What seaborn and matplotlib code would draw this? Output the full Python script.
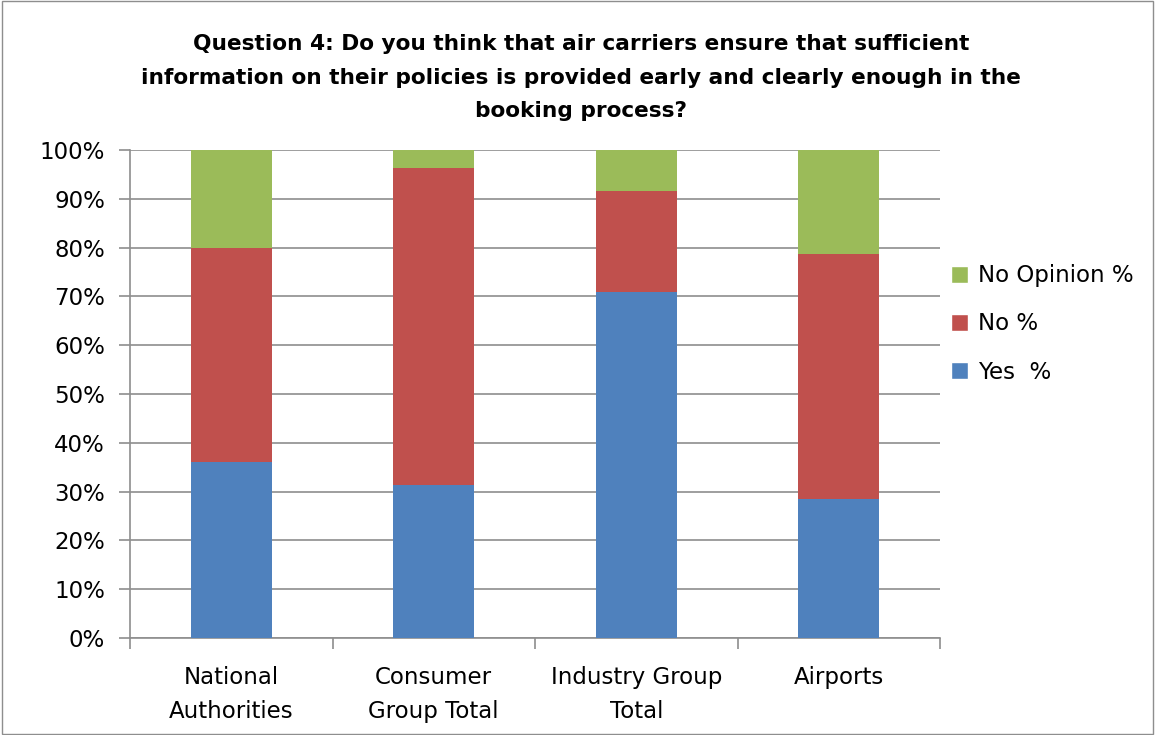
import matplotlib
matplotlib.use("Agg")
import matplotlib.pyplot as plt
import seaborn as sns
import numpy as np
import pandas as pd
from matplotlib.patches import Patch

categories = ["National\nAuthorities", "Consumer\nGroup Total", "Industry Group\nTotal", "Airports"]
yes_pct = [36.1, 31.3, 70.9, 28.4]
no_pct = [43.9, 65.0, 20.7, 50.3]
noop_pct = [20.0, 3.7, 8.4, 21.3]
series_names = ["Yes  %", "No %", "No Opinion %"]
colors = ["#4F81BD", "#C0504D", "#9BBB59"]

sns.set_theme(style="white")
plt.rcParams["font.family"] = ["DejaVu Sans"]
plt.rcParams["text.color"] = "black"
plt.rcParams["xtick.color"] = "black"
plt.rcParams["ytick.color"] = "black"

fig = plt.figure(figsize=(11.55, 7.35), dpi=100)
ax = fig.add_axes([130/1155, 1-638/735, (940-130)/1155, (638-150)/735])

df = pd.DataFrame({"cat": categories, "yes": yes_pct, "no": no_pct, "noop": noop_pct})
df["c_yes"] = df["yes"]
df["c_no"] = df["yes"] + df["no"]
df["c_all"] = df["c_no"] + df["noop"]

for col, color in [("c_all", colors[2]), ("c_no", colors[1]), ("c_yes", colors[0])]:
    sns.barplot(data=df, x="cat", y=col, color=color, width=0.4, ax=ax,
                saturation=1, edgecolor="none", linewidth=0, zorder=3)

ax.set_ylim(0, 100)
ax.set_xlim(-0.5, 3.5)
ax.set_yticks(np.arange(0, 101, 10))
ax.set_yticklabels([f"{v}%" for v in range(0, 101, 10)], fontsize=16.5)
ax.set_xticks(range(4))
ax.set_xticklabels(categories, fontsize=16.5, linespacing=1.65)
ax.set_xlabel("")
ax.set_ylabel("")
ax.yaxis.grid(True, color="#8E8E8E", linewidth=1.2, zorder=0)
ax.set_axisbelow(True)
for s in ["top", "right"]:
    ax.spines[s].set_visible(False)
for s in ["left", "bottom"]:
    ax.spines[s].set_color("#8E8E8E")
    ax.spines[s].set_linewidth(1.2)
ax.tick_params(axis="y", which="major", left=True, length=8, color="#8E8E8E", width=1.2, pad=10, labelcolor="black")
ax.tick_params(axis="x", which="major", bottom=False, pad=14, labelcolor="black")
ax.set_xticks([-0.5, 0.5, 1.5, 2.5, 3.5], minor=True)
ax.tick_params(axis="x", which="minor", bottom=True, length=8, color="#8E8E8E", width=1.2)

handles = [Patch(facecolor=colors[2], label=series_names[2]),
           Patch(facecolor=colors[1], label=series_names[1]),
           Patch(facecolor=colors[0], label=series_names[0])]
fig.legend(handles=handles, loc="center left", bbox_to_anchor=(930/1155, 1-324/735),
           frameon=False, fontsize=16.5, handlelength=0.75, handleheight=0.75,
           labelspacing=1.1, handletextpad=0.45, labelcolor="black")

title = ("Question 4: Do you think that air carriers ensure that sufficient\n"
         "information on their policies is provided early and clearly enough in the\n"
         "booking process?")
fig.text(581/1155, 1-77.5/735, title, ha="center", va="center", fontsize=15.6,
         fontweight="bold", linespacing=1.85, color="black")

border = plt.Rectangle((0.002, 0.002), 0.996, 0.996, transform=fig.transFigure,
                       fill=False, edgecolor="#8E8E8E", linewidth=1)
fig.patches.append(border)

fig.savefig("out.png", dpi=100)
